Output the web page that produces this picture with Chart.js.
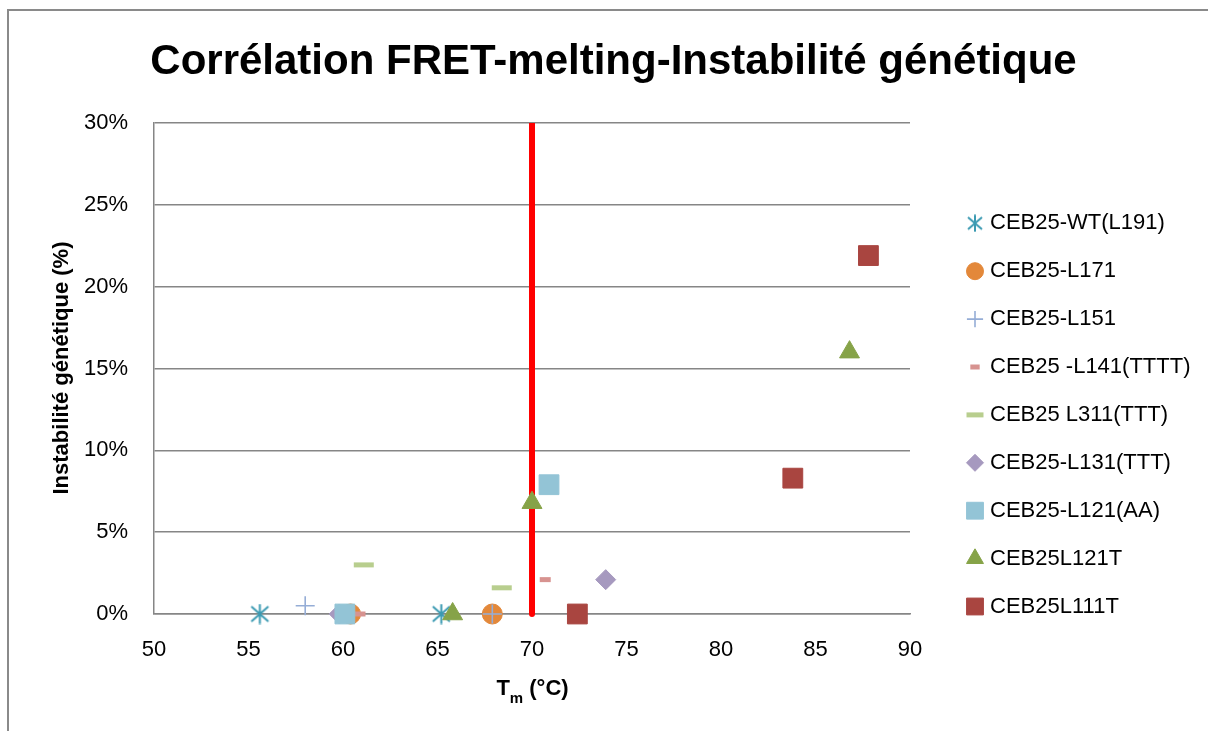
<!DOCTYPE html>
<html>
<head>
<meta charset="utf-8">
<script src="https://cdn.jsdelivr.net/npm/chart.js@4.4.1/dist/chart.umd.min.js"></script>
<style>
  html, body { margin: 0; padding: 0; background: #fff; }
  #wrap { width: 1208px; height: 731px; }
</style>
</head>
<body>
<div id="wrap"><canvas id="myChart" width="1208" height="731"></canvas></div>
<script>
// Series names (legend order)
var seriesNames = ['CEB25-WT(L191)', 'CEB25-L171', 'CEB25-L151', 'CEB25 -L141(TTTT)',
    'CEB25 L311(TTT)', 'CEB25-L131(TTT)', 'CEB25-L121(AA)', 'CEB25L121T', 'CEB25L111T'];

// Tm (°C) and genetic instability (%)
var wtTm = [55.6, 65.2];
var wtInst = [0, 0];
var l171Tm = [60.4, 67.9];
var l171Inst = [0, 0];
var l151Tm = [58.0, 67.9];
var l151Inst = [0.5, 0];
var l141Tm = [60.9, 70.7];
var l141Inst = [0, 2.1];
var l311Tm = [61.1, 68.4];
var l311Inst = [3.0, 1.6];
var l131Tm = [59.8, 73.9];
var l131Inst = [0, 2.1];
var l121Tm = [60.1, 70.9];
var l121Inst = [0, 7.9];
var l121tTm = [65.8, 70.0, 86.8];
var l121tInst = [0, 6.8, 16.0];
var l111tTm = [72.4, 83.8, 87.8];
var l111tInst = [0, 8.3, 21.9];

// red threshold line at 70 °C
var thresholdTm = [70, 70];
var thresholdInst = [0, 30];

// axis ticks
var xMin = 50, xMax = 90, xStep = 5;
var yMin = 0, yMax = 30, yStep = 5;

var FONT = '"Liberation Sans", Arial, sans-serif';

function toPoints(xs, ys) {
    var pts = [];
    for (var i = 0; i < xs.length; i++) {
        pts.push({ x: xs[i], y: ys[i] });
    }
    return pts;
}

// Excel style asterisk marker (X with vertical bar)
function makeStar(size, color) {
    var c = document.createElement('canvas');
    c.width = size;
    c.height = size;
    var g = c.getContext('2d');
    g.strokeStyle = color;
    g.lineWidth = 2;
    var m = 2, s = size - 2;
    g.beginPath();
    g.moveTo(m, m + 1); g.lineTo(s, s - 1);
    g.moveTo(s, m + 1); g.lineTo(m, s - 1);
    g.moveTo(size / 2, 0.5); g.lineTo(size / 2, size - 0.5);
    g.stroke();
    return c;
}

var teal = '#3B9AB2';
var starBig = makeStar(21, teal);
var starSmall = makeStar(18, teal);

var styles = [
    { style: starBig, legendStyle: starSmall, radius: 10, color: teal, border: teal, bw: 0 },
    { style: 'circle', radius: 10, color: '#E3883A', border: '#E3883A', bw: 1 },
    { style: 'cross', radius: 9.5, color: '#95ADD6', border: '#95ADD6', bw: 1.6 },
    { style: 'line', radius: 5.5, color: '#D79390', border: '#D79390', bw: 5 },
    { style: 'line', radius: 10, color: '#B8CE8E', border: '#B8CE8E', bw: 5 },
    { style: 'rectRot', radius: 10, color: '#A699BF', border: '#A699BF', bw: 1 },
    { style: 'rect', radius: 14, color: '#93C4D6', border: '#93C4D6', bw: 1 },
    { style: 'triangle', radius: 11.5, color: '#86A348', border: '#86A348', bw: 1 },
    { style: 'rect', radius: 14, color: '#A94540', border: '#A94540', bw: 1 }
];

var seriesData = [
    toPoints(wtTm, wtInst),
    toPoints(l171Tm, l171Inst),
    toPoints(l151Tm, l151Inst),
    toPoints(l141Tm, l141Inst),
    toPoints(l311Tm, l311Inst),
    toPoints(l131Tm, l131Inst),
    toPoints(l121Tm, l121Inst),
    toPoints(l121tTm, l121tInst),
    toPoints(l111tTm, l111tInst)
];

var datasets = [];
for (var i = 0; i < seriesNames.length; i++) {
    var st = styles[i];
    datasets.push({
        label: seriesNames[i],
        data: seriesData[i],
        pointStyle: st.style,
        pointRadius: st.radius,
        pointHoverRadius: st.radius,
        pointBackgroundColor: st.color,
        pointBorderColor: st.border,
        pointBorderWidth: st.bw,
        showLine: false,
        clip: false,
        order: 20 - i   // later series on top, like Excel
    });
}
datasets.push({
    label: 'seuil',
    type: 'line',
    data: toPoints(thresholdTm, thresholdInst),
    borderColor: '#FF0000',
    borderWidth: 6,
    borderCapStyle: 'round',
    pointRadius: 0,
    showLine: true,
    fill: false,
    clip: { left: 0, right: 0, top: 0, bottom: 3 },
    order: 100
});

// frame, titles and legend
var decorations = {
    id: 'decorations',
    beforeDraw: function(chart) {
        var ctx = chart.ctx;
        ctx.save();
        ctx.fillStyle = '#fff';
        ctx.fillRect(0, 0, chart.width, chart.height);
        ctx.strokeStyle = '#8A8A8A';
        ctx.lineWidth = 2;
        ctx.strokeRect(8, 10, 1400, 1000);
        ctx.restore();
    },
    afterDraw: function(chart) {
        var ctx = chart.ctx;
        ctx.save();
        ctx.fillStyle = '#000';

        // title
        ctx.font = 'bold 42px ' + FONT;
        ctx.textAlign = 'center';
        ctx.textBaseline = 'middle';
        ctx.fillText('Corrélation FRET-melting-Instabilité génétique', 613.5, 62);

        // y axis title
        ctx.save();
        ctx.translate(62, 368);
        ctx.rotate(-Math.PI / 2);
        ctx.font = 'bold 22px ' + FONT;
        ctx.fillText('Instabilité génétique (%)', 0, 0);
        ctx.restore();

        // x axis title with subscript
        ctx.textAlign = 'left';
        ctx.textBaseline = 'alphabetic';
        ctx.font = 'bold 22px ' + FONT;
        var wT = ctx.measureText('T').width;
        var wRest = ctx.measureText(' (°C)').width;
        ctx.font = 'bold 15px ' + FONT;
        var wm = ctx.measureText('m').width;
        var x0 = 532.5 - (wT + wm + wRest) / 2;
        ctx.font = 'bold 22px ' + FONT;
        ctx.fillText('T', x0, 695);
        ctx.font = 'bold 15px ' + FONT;
        ctx.fillText('m', x0 + wT, 703);
        ctx.font = 'bold 22px ' + FONT;
        ctx.fillText(' (°C)', x0 + wT + wm, 695);

        // legend
        ctx.font = '22px ' + FONT;
        ctx.textBaseline = 'middle';
        for (var i = 0; i < seriesNames.length; i++) {
            var st = styles[i];
            var y = 223.3 + i * 47.9;
            ctx.save();
            ctx.fillStyle = st.color;
            ctx.strokeStyle = st.border;
            ctx.lineWidth = st.bw;
            Chart.helpers.drawPoint(ctx, {
                pointStyle: st.legendStyle || st.style,
                rotation: 0,
                radius: st.radius * 0.85,
                borderWidth: st.bw
            }, 975, y);
            ctx.restore();
            ctx.fillStyle = '#000';
            ctx.fillText(seriesNames[i], 990, y);
        }
        ctx.restore();
    }
};

var ctx = document.getElementById('myChart').getContext('2d');
var myChart = new Chart(ctx, {
    type: 'scatter',
    data: { datasets: datasets },
    options: {
        responsive: false,
        devicePixelRatio: 1,
        animation: false,
        layout: { padding: { left: 0, top: 123, right: 298, bottom: 0 } },
        plugins: {
            legend: { display: false },
            title: { display: false },
            tooltip: { enabled: false }
        },
        scales: {
            x: {
                type: 'linear',
                min: xMin,
                max: xMax,
                afterFit: function(scale) { scale.height = 117; },
                ticks: {
                    stepSize: xStep,
                    padding: 23,
                    color: '#000',
                    font: { family: FONT, size: 22 }
                },
                grid: { display: false, drawTicks: false },
                border: { display: true, color: '#868686', width: 1.5 }
            },
            y: {
                type: 'linear',
                min: yMin,
                max: yMax,
                afterFit: function(scale) { scale.width = 154; },
                ticks: {
                    stepSize: yStep,
                    padding: 26,
                    color: '#000',
                    font: { family: FONT, size: 22 },
                    callback: function(v) { return v + '%'; }
                },
                grid: { color: '#868686', lineWidth: 1.5, drawTicks: false },
                border: { display: true, color: '#868686', width: 1.5 }
            }
        }
    },
    plugins: [decorations]
});
</script>
</body>
</html>
